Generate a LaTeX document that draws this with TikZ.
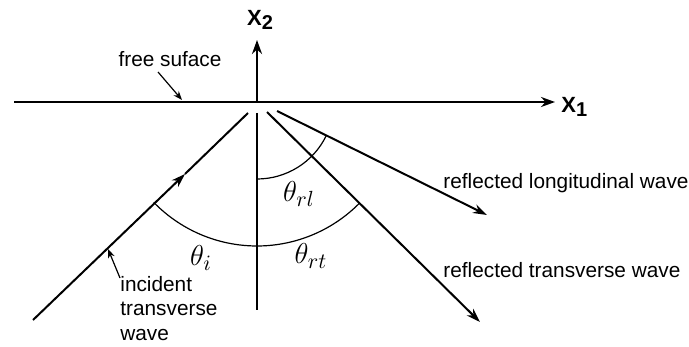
\documentclass[tikz,border=0pt]{standalone}
\usepackage{fontspec}
\setmainfont{Liberation Sans}
\usetikzlibrary{arrows.meta}
\begin{document}
\begin{tikzpicture}[x=0.5pt,y=-0.5pt,
  axis/.style={line width=1.25pt,-{Stealth[length=7pt,width=5pt]}},
  ray/.style={line width=1pt},
  raytip/.style={line width=1pt,-{Stealth[length=7pt,width=4.6pt]}},
  anglearc/.style={line width=0.6pt},
  pointer/.style={line width=0.6pt,-{Stealth[length=4.5pt,width=3.4pt]}},
  lbl/.style={font=\fontsize{10.4}{12}\selectfont,inner sep=0pt},
  axlbl/.style={font=\fontsize{11}{12}\selectfont\bfseries,inner sep=0pt},
  ang/.style={font=\fontsize{15}{17}\selectfont,inner sep=0pt}]
\useasboundingbox (0,0) rectangle (689,347);
% key points
\coordinate (O) at (257,102);
\coordinate (hl) at (14,102);
\coordinate (hr) at (555,102);
\coordinate (vtop) at (257,40);
\coordinate (vlo1) at (257,113);
\coordinate (vlo2) at (257,310);
\coordinate (inc1) at (33,320);
\coordinate (inctip) at (185,174);
\coordinate (inc2) at (248,113);
\coordinate (lon1) at (277,111);
\coordinate (lon2) at (487,215);
\coordinate (tra1) at (267,112);
\coordinate (tra2) at (480,322);
% axes
\draw[axis] (hl) -- (hr);
\draw[axis] (O) -- (vtop);
\draw[ray,line width=1.25pt] (vlo1) -- (vlo2);
% incident ray
\draw[raytip] (inc1) -- (inctip);
\draw[ray] (inctip) -- (inc2);
% reflected rays
\draw[raytip] (lon1) -- (lon2);
\draw[raytip] (tra1) -- (tra2);
% angle arcs
\draw[anglearc] ([shift={(44.6:144)}]O) arc[start angle=44.6,end angle=135.8,radius=144];
\draw[anglearc] ([shift={(26.2:77)}]O) arc[start angle=26.2,end angle=90,radius=77];
% labels
\node[axlbl] (x2) at (260,20) {X\raisebox{-0.35ex}{\fontsize{10}{12}\selectfont 2}};
\node[axlbl,anchor=west] (x1) at (561,107) {X\raisebox{-0.35ex}{\fontsize{10}{12}\selectfont 1}};
\node[lbl] (fs) at (170,59) {free suface};
\coordinate (fsa) at (158,72);
\coordinate (fsb) at (182,100);
\draw[pointer] (fsa) -- (fsb);
\node[lbl,anchor=north west,align=left,font=\fontsize{10.4}{12.2}\selectfont] (inc) at (120,276) {incident\\transverse\\wave};
\coordinate (inca) at (120,278);
\coordinate (incb) at (108,249);
\draw[pointer] (inca) -- (incb);
\node[lbl,anchor=west] (rl) at (443,183) {reflected longitudinal wave};
\node[lbl,anchor=west] (rt) at (443,270) {reflected transverse wave};
\node[ang] (ti) at (201,258) {$\theta_i$};
\node[ang] (trl) at (299,194) {$\theta_{rl}$};
\node[ang] (trt) at (311,256) {$\theta_{rt}$};
\end{tikzpicture}
\end{document}
